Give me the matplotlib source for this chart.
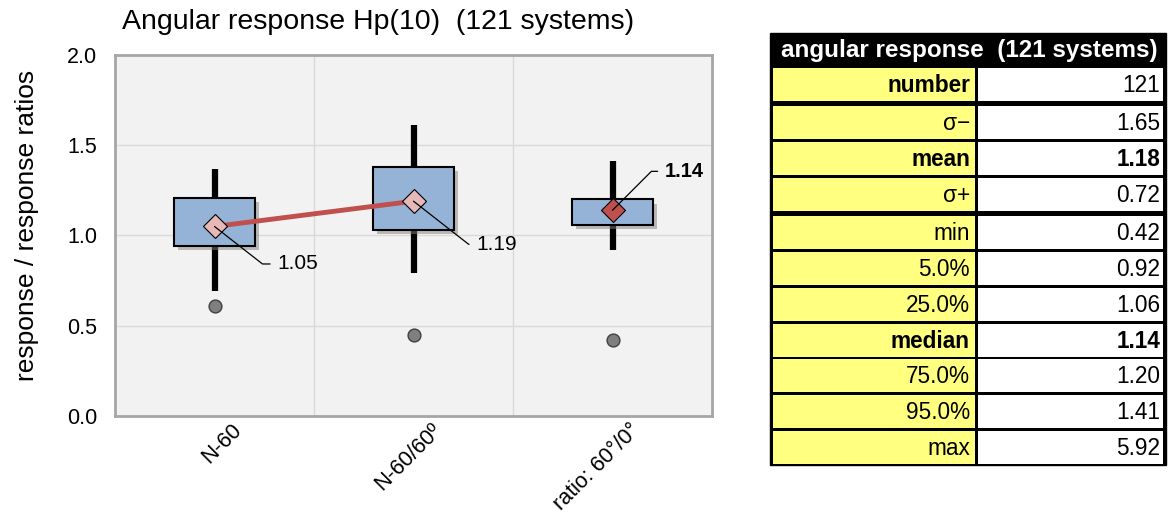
import matplotlib
matplotlib.use("Agg")
import matplotlib.pyplot as plt
import matplotlib.patheffects as pe
from matplotlib.patches import Rectangle
from matplotlib.transforms import ScaledTranslation

plt.rcParams['font.family'] = ['Liberation Sans', 'DejaVu Sans']

# ---- data ----
categories = ["N-60", "N-60/60\u00ba", "ratio: 60\u00b0/0\u00b0"]
p5 = [0.69, 0.79, 0.92]
q1 = [0.94, 1.03, 1.06]
median = [1.05, 1.19, 1.14]
q3 = [1.21, 1.38, 1.20]
p95 = [1.37, 1.61, 1.41]
minimum = [0.61, 0.45, 0.42]
median_labels = ["1.05", "1.19", "1.14"]
yticks = [0.0, 0.5, 1.0, 1.5, 2.0]

table_title = "angular response  (121 systems)"
table_labels = ["number", "\u03c3\u2212", "mean", "\u03c3+", "min", "5.0%", "25.0%",
                "median", "75.0%", "95.0%", "max"]
table_values = ["121", "1.65", "1.18", "0.72", "0.42", "0.92", "1.06",
                "1.14", "1.20", "1.41", "5.92"]
bold_labels = ["number", "mean", "median"]
bold_values = ["mean", "median"]

# ---- figure ----
W, H = 1169, 517
fig = plt.figure(figsize=(W / 100, H / 100), dpi=100)
ax = fig.add_axes([115 / W, 1 - 416 / H, (712 - 115) / W, (416 - 55) / H])
ax.set_facecolor('#f2f2f2')
x = list(range(len(categories)))
ax.set_xlim(-0.5, len(categories) - 0.5)
ax.set_ylim(0, 2.0)
ax.set_yticks(yticks)
ax.set_yticklabels([f"{v:.1f}" for v in yticks], fontsize=15.5)
ax.set_xticks(x)
ax.set_xticklabels(categories, rotation=45, ha='right', va='top',
                   rotation_mode='anchor', fontsize=15.5)
ax.tick_params(length=0, pad=13, axis='y')
ax.tick_params(length=0, pad=2.5, axis='x')
for lab in ax.get_xticklabels():
    lab.set_transform(lab.get_transform() + ScaledTranslation(0.17, 0, fig.dpi_scale_trans))
ax.set_xticks([xi + 0.5 for xi in x[:-1]], minor=True)
ax.grid(True, which='major', axis='y', color='#d9d9d9', lw=1)
ax.grid(True, which='minor', axis='x', color='#d9d9d9', lw=1)
ax.tick_params(which='minor', length=0)
ax.set_axisbelow(True)
for s in ax.spines.values():
    s.set_color('#a6a6a6')
    s.set_linewidth(2)

ax.set_ylabel("response / response ratios", fontsize=19)
ax.yaxis.set_label_coords(-0.127, 0.528)
fig.text(122 / W, 1 - 22 / H, "Angular response Hp(10)  (121 systems)",
         fontsize=20.5, ha='left', va='center')

# whiskers
for i in x:
    ax.vlines(i, p5[i], q1[i], color='black', lw=4.5, zorder=2)
    ax.vlines(i, q3[i], p95[i], color='black', lw=4.5, zorder=2)

# boxes with shadow
heights = [q3[i] - q1[i] for i in x]
bars = ax.bar(x, heights, bottom=q1, width=0.405, color='#95b3d7',
              edgecolor='black', lw=1.5, zorder=3)
for b in bars:
    b.set_path_effects([pe.SimplePatchShadow(offset=(3, -3), shadow_rgbFace='#7f7f7f',
                                             alpha=0.5), pe.Normal()])

# min outliers
ax.scatter(x, minimum, s=85, color='#7f7f7f', edgecolor='#404040', lw=1, zorder=4)

# connecting line between first two medians
ax.plot(x[:2], median[:2], color='#c0504d', lw=3.5, zorder=4, solid_capstyle='butt')

# median diamonds
colors = ['#e6b9b8', '#e6b9b8', '#c0504d']
for i in x:
    ax.plot(i, median[i], marker='D', ms=12, mfc=colors[i], mec='black', mew=0.8,
            zorder=5)

# labels with leader lines
offsets = [(45, -27), (45, -31), (37.5, 28)]
angles = [-38, -38, 45]
for i in x:
    bold = (i == 2)
    ax.annotate(median_labels[i], xy=(i, median[i]), xytext=offsets[i],
                textcoords='offset points', fontsize=15 if not bold else 14.5,
                fontweight='bold' if bold else 'normal', ha='left', va='center',
                zorder=6,
                arrowprops=dict(arrowstyle='-', color='black', lw=0.9,
                                shrinkA=3, shrinkB=0,
                                connectionstyle='angle,angleA=0,angleB=%d' % angles[i]))

# ---- table ----
tax = fig.add_axes([0, 0, 1, 1])
tax.set_xlim(0, W)
tax.set_ylim(H, 0)
tax.axis('off')
tl, tr, ttop, tbot = 770, 1166, 33, 465
tax.add_patch(Rectangle((tl, ttop), tr - tl, tbot - ttop, color='black'))
tax.text((tl + tr) / 2 + 1, 50, table_title, color='white', fontweight='bold',
         fontsize=17.5, ha='center', va='center')
row_tops = []
y = 68
for r in range(len(table_labels)):
    row_tops.append(y)
    y += 35.8
    if r in (0, 3):
        y += 2.5
rh = 33
split = 976
for r, (lab, val) in enumerate(zip(table_labels, table_values)):
    yt = row_tops[r]
    tax.add_patch(Rectangle((773, yt), split - 1 - 773, rh, color='#ffff80', lw=0))
    tax.add_patch(Rectangle((split + 2, yt), 1163 - split - 2, rh, color='white', lw=0))
    tax.text(970, yt + rh / 2 + 1, lab, fontsize=16.3,
             fontweight='bold' if lab in bold_labels else 'normal', ha='right',
             va='center')
    tax.text(1160, yt + rh / 2 + 1, val, fontsize=16.3,
             fontweight='bold' if lab in bold_values else 'normal', ha='right',
             va='center')

fig.savefig("out.png", dpi=100)
